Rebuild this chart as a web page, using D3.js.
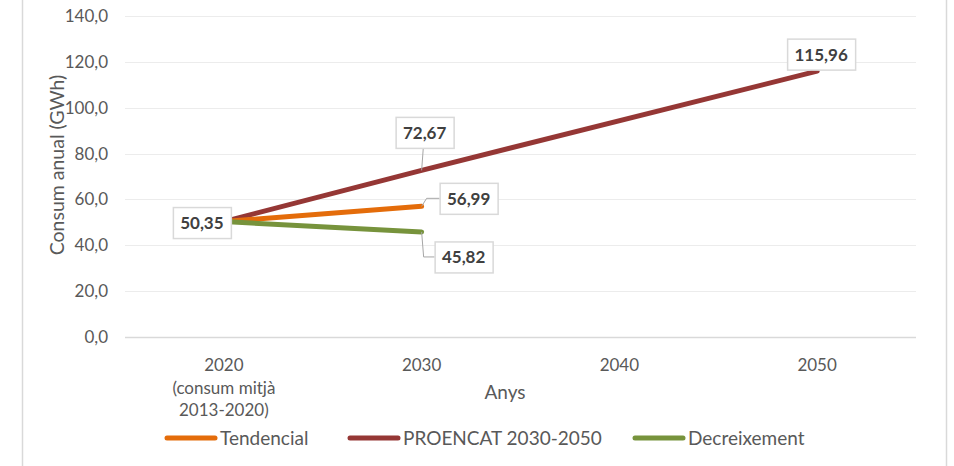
<!DOCTYPE html>
<html>
<head>
<meta charset="utf-8">
<script src="https://cdn.jsdelivr.net/npm/d3@7"></script>
<style>
  html, body { margin: 0; padding: 0; background: #fff; }
  svg { display: block; font-family: Lato, "Open Sans", sans-serif; }
</style>
</head>
<body>
<svg id="chart" width="954" height="466"></svg>
<script>
// ---- data ----
const categories = ["2020", "2030", "2040", "2050"];
const categoryLabels = [["2020", "(consum mitjà", "2013-2020)"], ["2030"], ["2040"], ["2050"]];
const tendencial = [50.35, 56.99, null, null];
const proencat = [50.35, 72.67, null, 115.96];
const decreixement = [50.35, 45.82, null, null];
const seriesNames = ["Tendencial", "PROENCAT 2030-2050", "Decreixement"];
const yTicks = [0, 20, 40, 60, 80, 100, 120, 140];

// ---- layout ----
const svg = d3.select("#chart");
const W = 954, H = 466;
const plot = { left: 125, right: 916, top: 16, bottom: 337 };
const colors = ["#E46C0A", "#953735", "#77933C"];
const fmt = v => d3.format(".1f")(v).replace(".", ",");
const fmt2 = v => d3.format(".2f")(v).replace(".", ",");

// chart area border
svg.append("rect").attr("x", 22.5).attr("y", -5).attr("width", 924).attr("height", H + 10)
  .attr("fill", "#fff").attr("stroke", "#d9d9d9").attr("stroke-width", 1.5);

const x = d3.scalePoint().domain(categories).range([plot.left, plot.right]).padding(0.5);
const y = d3.scaleLinear().domain([0, 140]).range([plot.bottom, plot.top]);

// gridlines
svg.append("g").selectAll("line").data(yTicks).join("line")
  .attr("x1", plot.left).attr("x2", plot.right)
  .attr("y1", d => Math.round(y(d)) + 0.5).attr("y2", d => Math.round(y(d)) + 0.5)
  .attr("stroke", d => d === 0 ? "#d9d9d9" : "#ececec").attr("stroke-width", d => d === 0 ? 1.5 : 1.2);

// y axis via d3.axisLeft (styled)
const yAxis = svg.append("g").attr("transform", `translate(${plot.left},0)`)
  .call(d3.axisLeft(y).tickValues(yTicks).tickFormat(fmt).tickSize(0).tickPadding(17));
yAxis.select(".domain").remove();
yAxis.selectAll("text").attr("font-size", 17).attr("fill", "#595959")
  .attr("font-family", "Lato, sans-serif");

// x axis labels
const xg = svg.append("g");
categories.forEach((c, i) => {
  const t = xg.append("text").attr("x", x(c)).attr("y", 371).attr("text-anchor", "middle")
    .attr("font-size", 17).attr("fill", "#595959");
  categoryLabels[i].forEach((ln, j) => {
    t.append("tspan").attr("x", x(c)).attr("dy", j === 0 ? 0 : 22.5).text(ln);
  });
});

// axis titles
svg.append("text").attr("x", 505).attr("y", 399).attr("text-anchor", "middle")
  .attr("font-size", 19).attr("fill", "#595959").text("Anys");
svg.append("text").attr("transform", "translate(64,165) rotate(-90)").attr("text-anchor", "middle")
  .attr("font-size", 19.5).attr("fill", "#595959").text("Consum anual (GWh)");

// lines
const allSeries = [tendencial, proencat, decreixement];
const line = d3.line().x(d => x(d.c)).y(d => y(d.v));
const drawOrder = [1, 0, 2];
drawOrder.forEach(si => {
  const pts = categories.map((c, i) => ({ c, v: allSeries[si][i] })).filter(d => d.v !== null);
  svg.append("path").datum(pts).attr("d", line).attr("fill", "none")
    .attr("stroke", colors[si]).attr("stroke-width", 5).attr("stroke-linecap", "round");
});

// data labels
function labelBox(cx, cy, text) {
  const g = svg.append("g");
  const w = text.length > 5 ? 68 : 58, h = 31;
  g.append("rect").attr("x", cx - w / 2 + 0.5).attr("y", cy - h / 2 + 0.5).attr("width", w).attr("height", h)
    .attr("fill", "#fff").attr("stroke", "#d9d9d9").attr("stroke-width", 1.5);
  g.append("text").attr("x", cx).attr("y", cy + 6.5).attr("text-anchor", "middle")
    .attr("font-size", 17).attr("font-weight", "bold").attr("fill", "#404040").text(text);
}
function leader(pts) {
  svg.append("path").attr("d", d3.line()(pts)).attr("fill", "none")
    .attr("stroke", "#a6a6a6").attr("stroke-width", 1);
}
const c0 = categories[0], c1 = categories[1], c3 = categories[3];
// 2020 shared start
labelBox(x(c0) - 22, y(proencat[0]) + 1, fmt2(proencat[0]));
// PROENCAT 2030
leader([[x(c1), y(proencat[1])], [x(c1) + 2, y(proencat[1]) - 27]]);
labelBox(x(c1) + 3, y(proencat[1]) - 38, fmt2(proencat[1]));
// Tendencial 2030
leader([[x(c1), y(tendencial[1])], [x(c1) + 5, y(tendencial[1]) - 8], [x(c1) + 18, y(tendencial[1]) - 8]]);
labelBox(x(c1) + 47, y(tendencial[1]) - 8, fmt2(tendencial[1]));
// Decreixement 2030
leader([[x(c1), y(decreixement[1])], [x(c1) + 2, y(decreixement[1]) + 25], [x(c1) + 13, y(decreixement[1]) + 25]]);
labelBox(x(c1) + 42, y(decreixement[1]) + 25, fmt2(decreixement[1]));
// PROENCAT 2050
labelBox(x(c3) + 4, y(proencat[3]) - 17, fmt2(proencat[3]));

// legend
const legendX = [167, 350, 635];
seriesNames.forEach((n, i) => {
  const g = svg.append("g").attr("transform", `translate(${legendX[i]},438)`);
  g.append("line").attr("x1", 0).attr("x2", 48).attr("y1", 0).attr("y2", 0)
    .attr("stroke", colors[i]).attr("stroke-width", 5).attr("stroke-linecap", "round");
  g.append("text").attr("x", 53).attr("y", 6.5).attr("font-size", 19).attr("fill", "#595959").text(n);
});
</script>
</body>
</html>
